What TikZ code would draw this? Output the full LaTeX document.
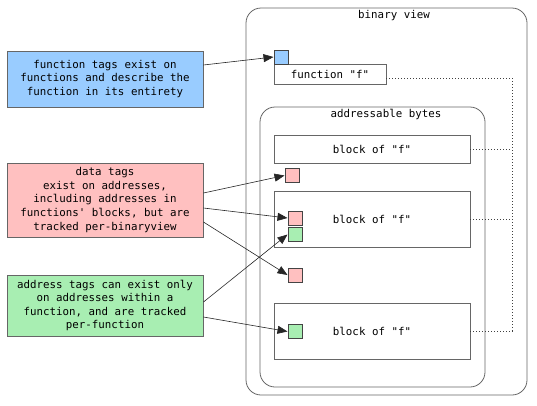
\documentclass[tikz,border=0pt]{standalone}
\usepackage{fontspec}
\setmonofont{DejaVu Sans Mono}
\usepackage{xcolor}
\usepackage{tikz}
\usetikzlibrary{shapes,arrows,positioning,calc,arrows.meta}

\definecolor{funcblue}{RGB}{153,204,255}
\definecolor{datared}{RGB}{255,192,192}
\definecolor{addrgreen}{RGB}{168,238,178}
\definecolor{edgegray}{RGB}{102,102,102}
\definecolor{sqgray}{RGB}{68,68,68}

\tikzset{
    tagbox/.style={draw=edgegray, line width=0.9pt, minimum width=196pt, align=center, inner sep=0pt},
    region/.style={draw=edgegray, line width=0.8pt, rounded corners=15pt, inner sep=0pt},
    blockbox/.style={draw=edgegray, line width=0.8pt, minimum width=196pt, inner sep=0pt},
    tagsq/.style={draw=sqgray, line width=1pt, minimum size=14pt, inner sep=0pt},
    tagarrow/.style={draw=black!85, line width=0.6pt, -{Triangle[length=10pt,width=8pt]}},
    dotline/.style={draw=black!75, line width=0.8pt, dash pattern=on 1pt off 2pt}
}

\begin{document}
\begin{tikzpicture}[x=1pt, y=-1pt, font=\ttfamily\fontsize{10.8pt}{13.6pt}\selectfont]
    \useasboundingbox (0,0) rectangle (537,405);

    % Tag kinds
    \node[tagbox, fill=funcblue, minimum height=56pt] (functag) at (105,79)
        {function tags exist on\\functions and describe the\\function in its entirety};
    \node[tagbox, fill=datared, minimum height=74pt] (datatag) at (105,200)
        {data tags\\exist on addresses,\\including addresses in\\functions' blocks, but are\\tracked per-binaryview};
    \node[tagbox, fill=addrgreen, minimum height=61pt] (addrtag) at (105,305.5)
        {address tags can exist only\\on addresses within a\\function, and are tracked\\per-function};

    % Binary view
    \begin{scope}
        \node[region, minimum width=281pt, minimum height=387pt] (bv) at (386.5,201.5) {};
        \node (bvlabel) at (394,16) {binary view};
        \node[blockbox, minimum width=112pt, minimum height=20pt] (func) at (330,74) {function "f"};
        \node[tagsq, fill=funcblue] (bluesq) at (281,57) {};

        \node[region, minimum width=225pt, minimum height=280pt] (ab) at (372.5,247) {};
        \node (ablabel) at (386,114) {addressable bytes};
        \node[blockbox, minimum height=28pt] (block1) at (372,149) {block of "f"};
        \node[blockbox, minimum height=56pt] (block2) at (372,219) {block of "f"};
        \node[blockbox, minimum height=56pt] (block3) at (372,331) {block of "f"};

        \node[tagsq, fill=datared] (redsq1) at (292,175.5) {};
        \node[tagsq, fill=datared] (redsq2) at (295,218) {};
        \node[tagsq, fill=addrgreen] (greensq1) at (295,234.5) {};
        \node[tagsq, fill=datared] (redsq3) at (295,275) {};
        \node[tagsq, fill=addrgreen] (greensq2) at (295,331.5) {};
    \end{scope}

    % Function to blocks
    \coordinate (rail) at (512,0);
    \draw[dotline] ([yshift=-4pt]func.east) -| (rail |- block3.east) -- (block3.east);
    \draw[dotline] (block1.east) -- (rail |- block1.east);
    \draw[dotline] (block2.east) -- (rail |- block2.east);

    % Tags
    \draw[tagarrow] ([yshift=14pt]functag.east) -- (bluesq.west);
    \draw[tagarrow] ([yshift=7pt]datatag.east) -- (redsq1.west);
    \draw[tagarrow] ([yshift=-8pt]datatag.east) -- (redsq2.west);
    \draw[tagarrow] ([yshift=-22pt]datatag.east) -- (redsq3.west);
    \draw[tagarrow] ([yshift=3.5pt]addrtag.east) -- (greensq1.west);
    \draw[tagarrow] ([yshift=-11.5pt]addrtag.east) -- (greensq2.west);
\end{tikzpicture}
\end{document}
